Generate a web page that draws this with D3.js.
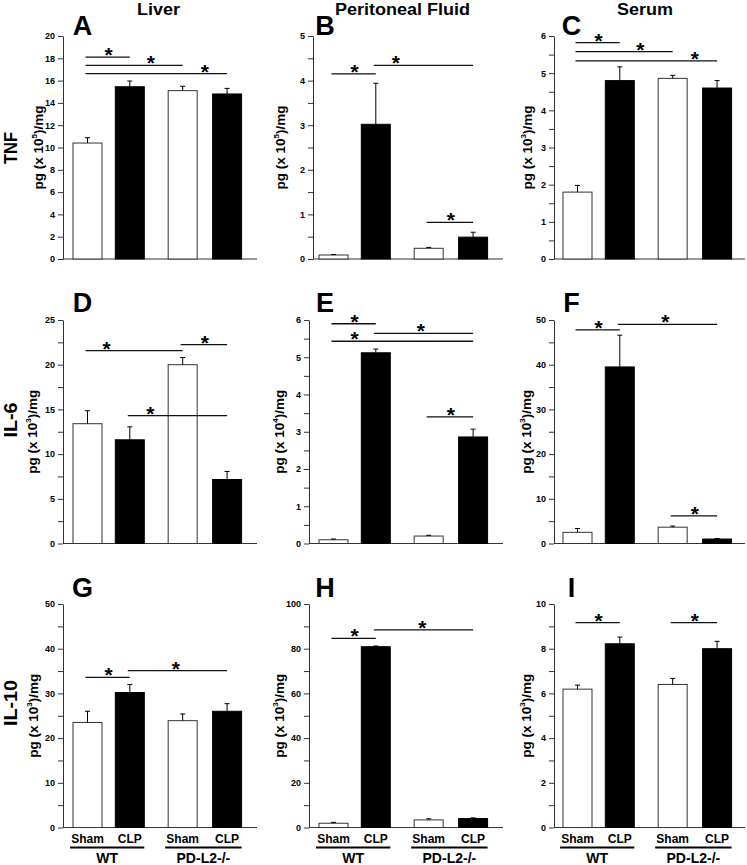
<!DOCTYPE html>
<html><head><meta charset="utf-8">
<script src="https://cdn.jsdelivr.net/npm/d3@7"></script>
<style>html,body{margin:0;padding:0;background:#fff}svg{display:block}text{font-family:"Liberation Sans",Arial,Helvetica,sans-serif;font-weight:bold}</style>
</head><body><svg id="c" width="747" height="865"></svg>
<script>
// ---------- data ----------
const categories = ["Sham", "CLP", "Sham", "CLP"];
const groups = ["WT", "PD-L2-/-"];
const columnTitles = ["Liver", "Peritoneal Fluid", "Serum"];
const rowTitles = ["TNF", "IL-6", "IL-10"];
const panelLetters = ["A", "B", "C", "D", "E", "F", "G", "H", "I"];
const unitExponents = ["5", "5", "3", "3", "4", "3", "3", "3", "3"];
const axisMax = [20, 5, 6, 25, 6, 50, 50, 100, 10];
const majorStep = [2, 1, 1, 5, 1, 10, 10, 20, 2];
const minorStep = [0, 0.5, 0.5, 2.5, 0.5, 5, 5, 10, 1];

const meansA = [10.4, 15.45, 15.1, 14.8],  semA = [0.48, 0.51, 0.39, 0.5];
const meansB = [0.09, 3.02, 0.24, 0.49],   semB = [0.01, 0.92, 0.02, 0.11];
const meansC = [1.8, 4.8, 4.86, 4.6],      semC = [0.18, 0.37, 0.08, 0.2];
const meansD = [13.4, 11.6, 20.0, 7.16],   semD = [1.45, 1.45, 0.8, 0.9];
const meansE = [0.1, 5.12, 0.2, 2.86],     semE = [0.02, 0.1, 0.02, 0.21];
const meansF = [2.5, 39.5, 3.65, 1.0],     semF = [0.85, 7.1, 0.25, 0.1];
const meansG = [23.5, 30.2, 23.9, 26.0],   semG = [2.5, 1.8, 1.5, 1.7];
const meansH = [1.9, 80.9, 3.4, 4.0],      semH = [0.4, 0.3, 0.5, 0.3];
const meansI = [6.19, 8.22, 6.4, 8.0],     semI = [0.18, 0.3, 0.27, 0.33];

// significance brackets: [from bar, to bar, height (data units), star position (bar index)]
const sigA = [[0,1,18.1,0.5],[0,2,17.37,1.4],[0,3,16.63,2.5]];
const sigB = [[0,1,4.15,0.5],[1,3,4.34,1.38],[2,3,0.82,2.5]];
const sigC = [[0,1,5.82,0.5],[0,2,5.58,1.39],[0,3,5.33,2.5]];
const sigD = [[0,2,21.57,0.45],[2,3,22.24,2.5],[1,3,14.3,1.39]];
const sigE = [[0,1,5.9,0.5],[1,3,5.64,1.85],[0,3,5.43,0.5],[2,3,3.4,2.5]];
const sigF = [[0,1,47.8,0.5],[1,3,49.0,1.86],[2,3,6.2,2.5]];
const sigG = [[0,1,33.6,0.5],[1,3,35.1,1.87]];
const sigH = [[0,1,84.65,0.5],[1,3,88.4,1.88]];
const sigI = [[0,1,9.17,0.5],[2,3,9.17,2.5]];

const allMeans = [meansA, meansB, meansC, meansD, meansE, meansF, meansG, meansH, meansI];
const allSem = [semA, semB, semC, semD, semE, semF, semG, semH, semI];
const allSig = [sigA, sigB, sigC, sigD, sigE, sigF, sigG, sigH, sigI];

// ---------- layout ----------
const colLayout = [{bar0: 87.5, end: 257, title: 158.5, titleLen: 43, letter: 82.5},
                   {bar0: 333.5, end: 503, title: 402.5, titleLen: 135, letter: 325},
                   {bar0: 577.5, end: 745, title: 645, titleLen: 56, letter: 571.5}];
const rowLayout = [{top: 36, zero: 259, letterY: 35, labelY: 148, labelLen: 32},
                   {top: 320, zero: 543.5, letterY: 312, labelY: 420, labelLen: 35},
                   {top: 604, zero: 827.5, letterY: 597, labelY: 703, labelLen: 46}];
const axisXs = [63, 313, 554, 63, 309, 554, 63, 309, 554];
const labelXs = [38, 280, 527, 32, 279, 526, 33, 279, 526];
const slots = [0, 1, 2.25, 3.3];
const barW = 29;

const svg = d3.select("#c");

// column titles
colLayout.forEach((c, i) => {
  svg.append("text").attr("x", c.title).attr("y", 15).attr("text-anchor", "middle")
    .attr("font-size", 16).attr("textLength", c.titleLen).attr("lengthAdjust", "spacingAndGlyphs")
    .text(columnTitles[i]);
});
// row titles
rowLayout.forEach((r, i) => {
  svg.append("text").attr("transform", `translate(11,${r.labelY}) rotate(-90)`)
    .attr("text-anchor", "middle").attr("dominant-baseline", "central")
    .attr("font-size", 18).attr("textLength", r.labelLen).attr("lengthAdjust", "spacingAndGlyphs")
    .text(rowTitles[i]);
});

for (let p = 0; p < 9; p++) {
  const ci = p % 3, ri = Math.floor(p / 3);
  const c = colLayout[ci], r = rowLayout[ri];
  const axisX = axisXs[p];
  const g = svg.append("g");
  const x = d3.scaleLinear().domain([0, slots[3]]).range([c.bar0, c.bar0 + 42.3 * slots[3]]);
  const y = d3.scaleLinear().domain([0, axisMax[p]]).range([r.zero, r.top]);
  const bx = i => x(slots[i]);
  const fx = f => { const a = Math.floor(f), b = Math.min(3, a + 1); return bx(a) + (bx(b) - bx(a)) * (f - a); };

  // panel letter
  svg.append("text").attr("x", c.letter).attr("y", r.letterY).attr("text-anchor", "middle")
    .attr("font-size", 27).text(panelLetters[p]);

  // minor ticks
  if (minorStep[p]) {
    const minors = d3.range(0, axisMax[p] + 1e-9, minorStep[p]).filter(v => Math.abs(v / majorStep[p] - Math.round(v / majorStep[p])) > 1e-6);
    const ma = g.append("g").attr("transform", `translate(${axisX},0)`)
      .call(d3.axisLeft(y).tickValues(minors).tickSize(5).tickFormat(""));
    ma.select(".domain").remove();
    ma.selectAll("line").attr("stroke", "#333");
  }
  // y axis
  const ax = g.append("g").attr("transform", `translate(${axisX},0)`)
    .call(d3.axisLeft(y).tickValues(d3.range(0, axisMax[p] + 1e-9, majorStep[p]))
      .tickSize(5).tickSizeOuter(0).tickPadding(3).tickFormat(d3.format("d")));
  ax.select(".domain").attr("stroke", "#333");
  ax.selectAll("line").attr("stroke", "#333");
  ax.selectAll("text").attr("font-size", 9).attr("font-family", '"Liberation Sans",Arial,sans-serif')
    .attr("font-weight", "bold").attr("fill", "#000");

  // x axis baseline
  g.append("line").attr("x1", axisX).attr("x2", c.end).attr("y1", y(0)).attr("y2", y(0))
    .attr("stroke", "#333").attr("stroke-width", 1.2);

  // y label
  const yl = g.append("text").attr("transform", `translate(${labelXs[p]},${(r.top + r.zero) / 2}) rotate(-90)`)
    .attr("text-anchor", "middle").attr("dominant-baseline", "central").attr("font-size", 13.5);
  yl.append("tspan").text("pg (x 10");
  yl.append("tspan").attr("font-size", 8).attr("dy", -4.5).text(unitExponents[p]);
  yl.append("tspan").attr("dy", 4.5).text(")/mg");

  // bars
  const means = allMeans[p], sem = allSem[p];
  means.forEach((m, i) => {
    const cx = bx(i);
    g.append("rect").attr("x", cx - barW / 2).attr("width", barW)
      .attr("y", y(m)).attr("height", y(0) - y(m))
      .attr("fill", i % 2 === 0 ? "#fff" : "#000")
      .attr("stroke", i % 2 === 0 ? "#333" : "#000").attr("stroke-width", 1);
    const top = y(m + sem[i]);
    g.append("line").attr("x1", cx).attr("x2", cx).attr("y1", y(m)).attr("y2", top)
      .attr("stroke", "#000").attr("stroke-width", 1);
    g.append("line").attr("x1", cx - 2.5).attr("x2", cx + 2.5).attr("y1", top).attr("y2", top)
      .attr("stroke", "#000").attr("stroke-width", 1);
  });

  // significance
  allSig[p].forEach(s => {
    const yy = y(s[2]);
    g.append("line").attr("x1", bx(s[0]) - 2).attr("x2", bx(s[1])).attr("y1", yy).attr("y2", yy)
      .attr("stroke", "#111").attr("stroke-width", 1.3);
    g.append("text").attr("x", fx(s[3])).attr("y", yy + 5).attr("text-anchor", "middle")
      .attr("font-size", 21).text("*");
  });

  // category labels on bottom row
  if (ri === 2) {
    categories.forEach((cat, i) => {
      g.append("text").attr("x", bx(i)).attr("y", 843).attr("text-anchor", "middle")
        .attr("font-size", 12).text(cat);
    });
    groups.forEach((gr, k) => {
      const a = bx(2 * k) - barW / 2 - 3, b = bx(2 * k + 1) + barW / 2;
      g.append("line").attr("x1", a).attr("x2", b).attr("y1", 847.5).attr("y2", 847.5)
        .attr("stroke", "#000").attr("stroke-width", 2);
      g.append("text").attr("x", (a + b) / 2).attr("y", 863).attr("text-anchor", "middle")
        .attr("font-size", 14).text(gr);
    });
  }
}
</script></body></html>
